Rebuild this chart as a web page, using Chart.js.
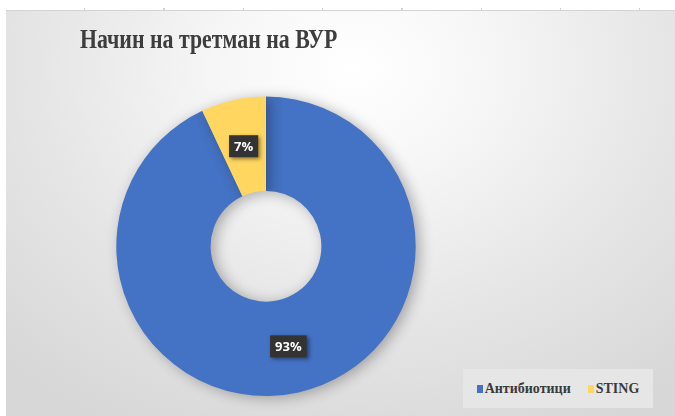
<!DOCTYPE html>
<html>
<head>
<meta charset="utf-8">
<script src="https://cdn.jsdelivr.net/npm/chart.js@4"></script>
<style>
  html, body { margin: 0; padding: 0; background: #fff; }
  body { width: 675px; height: 416px; position: relative; overflow: hidden; }
  .ruler {
    position: absolute; left: 6px; top: 8px; width: 669px; height: 2px;
    background: repeating-linear-gradient(to right, transparent 0 78px, #d2d2d2 78px 79.3px);
  }
  .frame {
    position: absolute; left: 6px; top: 10px; width: 669px; height: 406px;
    border-top: 1px solid #d4d4d4; box-sizing: border-box;
    background: radial-gradient(ellipse 75% 100% at 52% 14%, #ffffff 0%, #f7f7f7 25%, #e6e6e6 62%, #d7d7d7 100%);
  }
  .legend {
    position: absolute; left: 457px; top: 358px; width: 190px; height: 39px;
    background: #e6e6e6; display: flex; align-items: center; justify-content: center; gap: 17px;
    font: bold 14px "Liberation Serif", "Times New Roman", serif; color: #3a3a3a;
  }
  .legend span.sw { display: inline-block; width: 6px; height: 8px; margin-right: 2px; }
</style>
</head>
<body>
<div class="ruler"></div>
<div class="frame">
  <canvas id="graph-vur"></canvas>
  <div class="legend" id="legend-vur"></div>
</div>
<script>
const title = "Начин на третман на ВУР";
const categories = ["Антибиотици", "STING"];
const shares = [93, 7];
const colors = ["#4472C4", "#FFD65F"];

// narrow the title face horizontally (condensed look)
const condensedTitle = {
  id: "condensedTitle",
  beforeDraw(chart) {
    const ctx = chart.ctx;
    const left = chart.titleBlock.left;
    ctx.save();
    ctx.translate(left, 0);
    ctx.scale(0.78, 1);
    ctx.translate(-left, 0);
  },
  beforeDatasetsDraw(chart) {
    chart.ctx.restore();
  },
};

// soft shadow under the ring
const ringShadow = {
  id: "ringShadow",
  beforeDatasetsDraw(chart) {
    const ctx = chart.ctx;
    ctx.save();
    ctx.shadowColor = "rgba(0,0,0,0.3)";
    ctx.shadowBlur = 14;
    ctx.shadowOffsetX = 4;
    ctx.shadowOffsetY = 2;
  },
  afterDatasetsDraw(chart) {
    chart.ctx.restore();
  },
};

// dark value boxes in the middle of each slice
const valueBoxes = {
  id: "valueBoxes",
  afterDatasetsDraw(chart) {
    const ctx = chart.ctx;
    const meta = chart.getDatasetMeta(0);
    const total = shares.reduce((a, b) => a + b, 0);
    ctx.save();
    ctx.font = 'bold 13px "Open Sans", sans-serif';
    ctx.textAlign = "center";
    ctx.textBaseline = "middle";
    meta.data.forEach((arc, i) => {
      const { x, y } = arc.getCenterPoint();
      const text = Math.round((shares[i] / total) * 100) + "%";
      const w = ctx.measureText(text).width + 10;
      const h = 22;
      ctx.shadowColor = "rgba(0,0,0,0.45)";
      ctx.shadowBlur = 4;
      ctx.shadowOffsetX = 2;
      ctx.shadowOffsetY = 2;
      ctx.fillStyle = "#333333";
      ctx.fillRect(x - w / 2, y - h / 2, w, h);
      ctx.shadowColor = "transparent";
      ctx.fillStyle = "#ffffff";
      ctx.fillText(text, x, y + 1);
    });
    ctx.restore();
  },
};

const chart = new Chart(document.getElementById("graph-vur"), {
  type: "doughnut",
  data: {
    labels: categories,
    datasets: [
      {
        data: shares,
        backgroundColor: colors,
        borderWidth: 0,
      },
    ],
  },
  options: {
    responsive: true,
    maintainAspectRatio: false,
    animation: false,
    cutout: "37%",
    layout: {
      padding: { left: 74, right: 223, top: 0, bottom: 20 },
    },
    plugins: {
      legend: { display: false },
      tooltip: { enabled: false },
      title: {
        display: true,
        text: title,
        align: "start",
        color: "#3d3d3d",
        font: { family: '"Liberation Serif", "Times New Roman", serif', size: 28, weight: "bold" },
        padding: { top: 13, bottom: 39 },
      },
    },
  },
  plugins: [condensedTitle, ringShadow, valueBoxes],
});

// legend box built from the chart's own legend items
const legendEl = document.getElementById("legend-vur");
chart.options.plugins.legend.labels.generateLabels(chart).forEach((item) => {
  const entry = document.createElement("div");
  const sw = document.createElement("span");
  sw.className = "sw";
  sw.style.background = item.fillStyle;
  entry.appendChild(sw);
  entry.appendChild(document.createTextNode(item.text));
  legendEl.appendChild(entry);
});
</script>
</body>
</html>
